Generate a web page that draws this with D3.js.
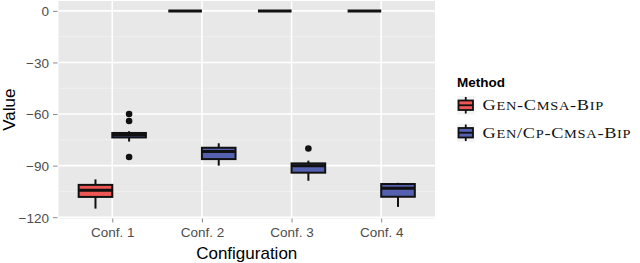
<!DOCTYPE html>
<html>
<head>
<meta charset="utf-8">
<script src="https://cdn.jsdelivr.net/npm/d3@7"></script>
<style>
  body { margin: 0; background: #fff; }
  text { font-family: "Liberation Sans", Arial, sans-serif; }
</style>
</head>
<body>
<div id="chart"></div>
<script>
// categories and series
const configs = ["Conf. 1", "Conf. 2", "Conf. 3", "Conf. 4"];
const methods = ["Gen-Cmsa-Bip", "Gen/Cp-Cmsa-Bip"];
const methodColors = ["#ee5656", "#5461b0"];

// box stats per config: [lowWhisker, q1, median, q3, highWhisker]
const genStats = [
  [-115, -108.2, -104.3, -101.2, -98],
  [0, 0, 0, 0, 0],
  [0, 0, 0, 0, 0],
  [0, 0, 0, 0, 0]
];
const cpStats = [
  [-76, -73.6, -72, -71, -70],
  [-90, -86.2, -81.8, -79.6, -77],
  [-98.8, -94.1, -90, -88.7, -87.1],
  [-114, -108.1, -103.2, -100.7, -100]
];
const genOutliers = [[], [], [], []];
const cpOutliers = [[-60, -64, -85], [], [-80], []];

const yTicks = [0, -30, -60, -90, -120];
const yMinor = [-15, -45, -75, -105];

const W = 640, H = 263;
const panel = { l: 58.5, r: 435, t: 1, b: 218.5 };

const svg = d3.select("#chart").append("svg")
  .attr("width", W).attr("height", H);

const x = d3.scalePoint().domain(configs).range([panel.l, panel.r]).padding(0.6);
const y = d3.scaleLinear().domain([-120.75, 5.75]).range([panel.b, panel.t]);
const step = x.step();
const boxW = step * 0.375;
const dodge = [-step * 0.1875, step * 0.1875];

// panel background + grid
svg.append("rect")
  .attr("x", panel.l).attr("y", panel.t)
  .attr("width", panel.r - panel.l).attr("height", panel.b - panel.t)
  .attr("fill", "#e8e8e8");

svg.selectAll(".minor").data(yMinor).join("line")
  .attr("x1", panel.l).attr("x2", panel.r)
  .attr("y1", d => y(d)).attr("y2", d => y(d))
  .attr("stroke", "#f3f3f3").attr("stroke-width", 0.8);

svg.selectAll(".major").data(yTicks).join("line")
  .attr("x1", panel.l).attr("x2", panel.r)
  .attr("y1", d => y(d)).attr("y2", d => y(d))
  .attr("stroke", "#fff").attr("stroke-width", 1.6);

svg.selectAll(".vgrid").data(configs).join("line")
  .attr("x1", d => x(d)).attr("x2", d => x(d))
  .attr("y1", panel.t).attr("y2", panel.b)
  .attr("stroke", "#fff").attr("stroke-width", 1.6);

// axes
const yAxis = svg.append("g")
  .attr("transform", `translate(${panel.l - 1},0)`)
  .call(d3.axisLeft(y).tickValues(yTicks).tickSize(4.5).tickPadding(4));
const xAxis = svg.append("g")
  .attr("transform", `translate(0,${panel.b})`)
  .call(d3.axisBottom(x).tickSize(4).tickPadding(5));
[yAxis, xAxis].forEach(g => {
  g.select(".domain").remove();
  g.selectAll(".tick line").attr("stroke", "#8a8a8a").attr("stroke-width", 1);
  g.selectAll(".tick text")
    .attr("fill", "#4d4d4d")
    .style("font-size", "13.5px")
    .style("font-family", "'Liberation Sans', Arial, sans-serif");
});
yAxis.selectAll(".tick text").attr("dy", "0.36em");

svg.append("text")
  .attr("x", (panel.l + panel.r) / 2).attr("y", 259)
  .attr("text-anchor", "middle")
  .style("font-size", "17px")
  .text("Configuration");

svg.append("text")
  .attr("transform", `translate(15,${(panel.t + panel.b) / 2}) rotate(-90)`)
  .attr("text-anchor", "middle")
  .style("font-size", "17px")
  .text("Value");

// boxplots
const series = [
  { stats: genStats, outliers: genOutliers },
  { stats: cpStats, outliers: cpOutliers }
];

series.forEach((s, mi) => {
  const g = svg.append("g");
  configs.forEach((c, ci) => {
    const [lo, q1, med, q3, hi] = s.stats[ci];
    const cx = x(c) + dodge[mi];
    g.append("line")
      .attr("x1", cx).attr("x2", cx)
      .attr("y1", y(hi)).attr("y2", y(lo))
      .attr("stroke", "#111").attr("stroke-width", 2);
    g.append("rect")
      .attr("x", cx - boxW / 2).attr("width", boxW)
      .attr("y", y(q3)).attr("height", Math.max(0, y(q1) - y(q3)))
      .attr("fill", methodColors[mi])
      .attr("stroke", "#111").attr("stroke-width", 2);
    g.append("line")
      .attr("x1", cx - boxW / 2).attr("x2", cx + boxW / 2)
      .attr("y1", y(med)).attr("y2", y(med))
      .attr("stroke", "#111").attr("stroke-width", 3);
    g.selectAll(null).data(s.outliers[ci]).join("circle")
      .attr("cx", cx).attr("cy", d => y(d))
      .attr("r", 3.3).attr("fill", "#111");
  });
});

// legend
const leg = svg.append("g").attr("transform", "translate(457,0)");
leg.append("text")
  .attr("x", 0).attr("y", 86.5)
  .style("font-size", "13.5px").style("font-weight", "bold")
  .text("Method");

// fake LaTeX small caps: capitals big, lowercase as smaller capitals
function smallCaps(textSel, label, big, small) {
  const runs = label.match(/[a-z]+|[^a-z]+/g);
  runs.forEach(r => {
    textSel.append("tspan")
      .style("font-size", (/[a-z]/.test(r) ? small : big) + "px")
      .text(r.toUpperCase());
  });
}

const keySize = 17.5;
const rowY = [96, 123.5];
methods.forEach((m, i) => {
  const k = leg.append("g").attr("transform", `translate(0,${rowY[i]})`);
  k.append("rect")
    .attr("width", keySize).attr("height", keySize + 1)
    .attr("fill", "#f4f4f4");
  k.append("line")
    .attr("x1", keySize / 2).attr("x2", keySize / 2)
    .attr("y1", 1).attr("y2", keySize)
    .attr("stroke", "#111").attr("stroke-width", 1.8);
  k.append("rect")
    .attr("x", 1.5).attr("width", keySize - 3)
    .attr("y", 4.5).attr("height", keySize - 8)
    .attr("fill", methodColors[i])
    .attr("stroke", "#111").attr("stroke-width", 1.8);
  k.append("line")
    .attr("x1", 1.5).attr("x2", keySize - 1.5)
    .attr("y1", keySize / 2 + 0.5).attr("y2", keySize / 2 + 0.5)
    .attr("stroke", "#111").attr("stroke-width", 1.8);
  const t = k.append("text")
    .attr("transform", `translate(${keySize + 8},${keySize / 2 + 5.5}) scale(1.18,1)`)
    .style("font-family", "'Liberation Serif', 'DejaVu Serif', serif")
    .style("letter-spacing", "0.6px")
    .attr("fill", "#111");
  smallCaps(t, m, 15.5, 12.2);
});
</script>
</body>
</html>
